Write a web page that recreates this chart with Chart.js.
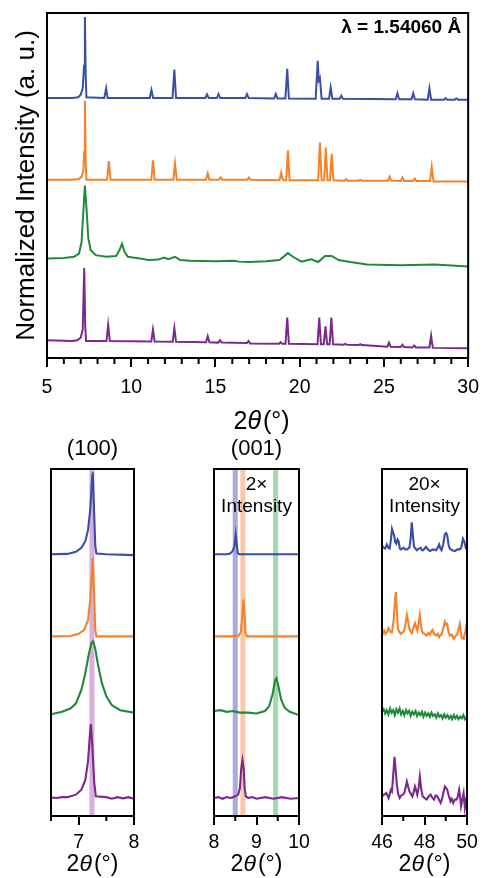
<!DOCTYPE html>
<html>
<head>
<meta charset="utf-8">
<script src="https://cdn.jsdelivr.net/npm/chart.js@4.4.1/dist/chart.umd.min.js"></script>
<style>
  body { margin: 0; background: #fff; }
  #wrap { position: relative; width: 488px; height: 878px; overflow: hidden; }
  canvas { position: absolute; }
</style>
</head>
<body>
<div id="wrap">
  <canvas id="chartTop" width="488" height="445" style="left:0;top:0"></canvas>
  <canvas id="chart100" width="143" height="458" style="left:21px;top:420px"></canvas>
  <canvas id="chart001" width="145" height="458" style="left:184px;top:420px"></canvas>
  <canvas id="chart46" width="145" height="458" style="left:352px;top:420px"></canvas>
</div>
<script>
// ---- data: [2theta, normalized intensity above own baseline] ----
const names = ["blue", "orange", "green", "purple"];
const colors = ["#3a4ea5", "#f5822a", "#1f8a3a", "#7a2a8c"];

// full pattern 5-30 deg
const topBlue = [[5,0],[6.5,0],[6.85,0.01],[7.0,0.04],[7.12,0.12],[7.2,0.4],[7.25,1.0],[7.3,0.25],[7.34,0.01],
  [8.4,0],[8.51,0.12],[8.6,0],[11.1,0],[11.2,0.1],[11.3,0],[12.45,0],[12.56,0.35],[12.66,0],
  [14.4,0],[14.5,0.045],[14.6,0],[15.08,0],[15.18,0.05],[15.28,0],[16.77,0],[16.87,0.05],[16.97,0],
  [18.48,-0.005],[18.58,0.05],[18.68,-0.005],[19.15,-0.005],[19.26,0.36],[19.36,-0.005],
  [20.95,-0.01],[21.07,0.46],[21.13,0.22],[21.2,0.25],[21.3,-0.01],[21.74,-0.01],[21.84,0.13],[21.94,-0.01],
  [22.37,-0.01],[22.47,0.03],[22.57,-0.01],[25.7,-0.015],[25.8,0.06],[25.9,-0.015],
  [26.64,-0.015],[26.74,0.06],[26.84,-0.015],[27.6,-0.02],[27.7,0.12],[27.8,-0.02],
  [28.56,-0.02],[28.66,0.0],[28.76,-0.02],[29.2,-0.02],[29.3,-0.005],[29.4,-0.02],[30,-0.02]];
const topOrange = [[5,0],[6.5,0],[6.9,0.01],[7.05,0.04],[7.15,0.1],[7.21,0.35],[7.25,0.975],[7.3,0.2],[7.34,0],
  [8.57,0],[8.67,0.23],[8.77,0],[11.19,0],[11.29,0.24],[11.39,0],[12.5,0],[12.6,0.2],[12.7,0],
  [14.44,0],[14.54,0.08],[14.64,0],[15.2,0],[15.3,0.03],[15.4,0],[16.89,0],[16.99,0.03],[17.09,0],
  [18.8,-0.005],[18.9,0.09],[18.98,0.01],[19.05,-0.005],[19.2,-0.005],[19.3,0.36],[19.4,-0.005],
  [21.1,-0.005],[21.2,0.46],[21.3,-0.005],[21.45,-0.005],[21.55,0.4],[21.65,-0.005],
  [21.8,-0.005],[21.9,0.32],[22.0,-0.005],[22.66,-0.01],[22.76,0.01],[22.86,-0.01],
  [23.5,-0.01],[23.6,0.0],[23.7,-0.01],[25.24,-0.01],[25.34,0.04],[25.44,-0.01],
  [26.0,-0.015],[26.1,0.03],[26.2,-0.015],[26.73,-0.015],[26.83,0.015],[26.93,-0.015],
  [27.74,-0.015],[27.84,0.16],[27.94,-0.02],[30,-0.02]];
const topGreen = [[5,0],[6,0.005],[6.6,0.02],[6.9,0.06],[7.05,0.2],[7.15,0.55],[7.25,0.9],[7.35,0.6],[7.45,0.25],
  [7.6,0.1],[7.9,0.04],[8.5,0.02],[9.1,0.03],[9.3,0.1],[9.45,0.18],[9.6,0.08],[9.8,0.02],[10.5,0],
  [11,-0.02],[11.6,-0.015],[11.95,0.01],[12.2,-0.01],[12.6,0.02],[12.9,-0.02],[13.5,-0.03],[15,-0.035],
  [16.1,-0.03],[16.4,-0.04],[17,-0.045],[18,-0.035],[18.8,-0.02],[19.3,0.065],[19.6,0.02],[20.1,-0.04],
  [20.67,-0.01],[21.1,-0.045],[21.5,0.03],[21.9,0.03],[22.3,-0.02],[23,-0.045],[24,-0.075],
  [26,-0.085],[28,-0.075],[30,-0.1]];
const topPurple = [[5,0.01],[6.5,0],[6.8,0.01],[7.0,0.04],[7.12,0.14],[7.21,0.9],[7.27,0.18],[7.32,0],
  [8.53,0],[8.63,0.2],[8.73,0],[11.19,-0.005],[11.29,0.14],[11.39,-0.005],[12.46,-0.01],[12.56,0.16],[12.66,-0.01],
  [14.44,-0.015],[14.54,0.06],[14.64,-0.015],[15.17,-0.02],[15.27,0.01],[15.37,-0.02],
  [16.86,-0.025],[16.96,0.0],[17.06,-0.03],[18.77,-0.035],[18.87,-0.015],[18.95,-0.035],
  [19.16,-0.035],[19.26,0.29],[19.36,-0.035],[21.06,-0.04],[21.16,0.29],[21.26,-0.04],
  [21.43,-0.04],[21.53,0.18],[21.63,-0.04],[21.78,-0.04],[21.88,0.29],[21.98,-0.04],
  [22.6,-0.045],[22.7,-0.035],[22.8,-0.045],[23.5,-0.05],[23.6,-0.04],[23.7,-0.05],
  [25.2,-0.07],[25.3,-0.02],[25.4,-0.07],[26.0,-0.075],[26.1,-0.045],[26.2,-0.075],
  [26.7,-0.08],[26.8,-0.055],[26.9,-0.08],[27.7,-0.08],[27.8,0.065],[27.9,-0.085],[30,-0.09]];

// (100) reflection, 6.5-8 deg
const p100Blue = [[6.5,0],[6.8,0.005],[6.95,0.03],[7.05,0.08],[7.12,0.16],[7.17,0.3],[7.21,0.55],[7.24,0.9],
  [7.255,1.0],[7.27,0.7],[7.3,0.1],[7.32,0.01],[7.5,0],[8,-0.01]];
const p100Orange = [[6.5,0],[6.85,0.005],[7.0,0.03],[7.1,0.08],[7.17,0.2],[7.21,0.45],[7.24,0.8],[7.255,0.96],
  [7.27,0.7],[7.3,0.08],[7.32,0],[8,0]];
const p100Green = [[6.5,0],[6.7,0.03],[6.85,0.07],[6.95,0.13],[7.05,0.3],[7.12,0.5],[7.18,0.72],[7.23,0.87],
  [7.26,0.89],[7.3,0.8],[7.35,0.6],[7.42,0.38],[7.5,0.22],[7.6,0.11],[7.75,0.05],[8,0.02]];
const p100Purple = [[6.5,0.005],[6.6,0.0],[6.7,0.01],[6.8,0.01],[6.95,0.04],[7.05,0.1],[7.12,0.22],[7.17,0.45],
  [7.2,0.75],[7.22,0.9],[7.25,0.6],[7.28,0.2],[7.31,0.02],[7.5,0.01],[7.6,-0.01],[7.7,0.01],[7.8,-0.005],[7.9,0.01],[8,-0.01]];

// (001) reflection, 8-10 deg, shown at 2x intensity
const p001Blue = [[8,0],[8.3,0],[8.38,0.01],[8.44,0.04],[8.48,0.1],[8.51,0.24],[8.535,0.12],[8.56,0.01],[8.6,0],[9.5,0],[10,0]];
const p001Orange = [[8,0],[8.4,0],[8.58,0.01],[8.63,0.05],[8.66,0.2],[8.69,0.45],[8.715,0.3],[8.74,0.05],[8.77,0],[9.5,0],[10,0]];
const p001Green = [[8,0.04],[8.15,0.05],[8.3,0.03],[8.45,0.04],[8.6,0.02],[8.8,0.02],[9.0,0.01],[9.2,0.04],[9.3,0.1],
  [9.38,0.25],[9.44,0.42],[9.47,0.44],[9.52,0.33],[9.58,0.18],[9.66,0.08],[9.78,0.03],[10,-0.01]];
const p001Purple = [[8,0],[8.1,0.01],[8.2,-0.01],[8.3,0.01],[8.4,0],[8.5,0.02],[8.57,0.04],[8.61,0.12],[8.64,0.35],
  [8.67,0.46],[8.7,0.35],[8.72,0.12],[8.75,0.02],[8.8,0],[8.9,0.01],[9.0,-0.01],[9.2,0.01],[9.4,-0.01],
  [9.6,0.01],[9.8,-0.01],[10,0]];

// 46-50 deg, shown at 20x intensity
const p46Blue = [[46.0,0.07],[46.05,0.09],[46.15,0.07],[46.23,0.12],[46.3,0.08],[46.36,0.07],[46.42,0.18],[46.47,0.31],
  [46.52,0.27],[46.57,0.23],[46.62,0.15],[46.67,0.13],[46.73,0.18],[46.78,0.16],[46.84,0.07],[46.89,0.06],
  [47.0,0.08],[47.1,0.06],[47.17,0.06],[47.29,0.08],[47.35,0.2],[47.4,0.39],[47.45,0.25],[47.5,0.1],
  [47.57,0.07],[47.64,0.05],[47.73,0.07],[47.82,0.08],[47.88,0.05],[47.94,0.05],[48.07,0.09],[48.16,0.06],
  [48.26,0.04],[48.4,0.06],[48.54,0.05],[48.62,0.08],[48.69,0.12],[48.75,0.07],[48.8,0.05],[48.88,0.12],
  [48.96,0.25],[49.02,0.26],[49.07,0.23],[49.13,0.12],[49.19,0.07],[49.3,0.05],[49.43,0.04],[49.55,0.06],
  [49.66,0.06],[49.73,0.08],[49.81,0.19],[49.88,0.15],[49.95,0.07],[50.0,0.07]];
const p46Orange = [[46.0,0.01],[46.05,0.04],[46.1,0.07],[46.17,0.03],[46.23,0.05],[46.3,0.1],[46.36,0.07],[46.42,0.05],
  [46.47,0.05],[46.55,0.2],[46.6,0.4],[46.65,0.54],[46.7,0.3],[46.75,0.09],[46.82,0.05],[46.89,0.03],
  [46.97,0.05],[47.05,0.07],[47.12,0.18],[47.17,0.26],[47.23,0.18],[47.29,0.09],[47.35,0.06],[47.4,0.04],
  [47.48,0.1],[47.55,0.16],[47.6,0.12],[47.66,0.07],[47.72,0.15],[47.78,0.26],[47.84,0.12],[47.91,0.04],
  [48.0,0.03],[48.1,0.01],[48.18,0.04],[48.26,0.02],[48.32,0.06],[48.38,0.08],[48.45,0.03],[48.54,0.01],
  [48.62,0.03],[48.69,-0.01],[48.75,0.02],[48.8,0.02],[48.88,0.1],[48.96,0.18],[49.02,0.14],[49.07,0.15],
  [49.13,0.05],[49.19,0.01],[49.28,0.02],[49.38,-0.03],[49.45,0.0],[49.53,0.02],[49.6,0.08],[49.66,0.15],
  [49.71,0.06],[49.75,-0.02],[49.84,-0.03],[49.92,0.06],[49.97,0.13],[50.0,0.1]];
const p46Green = [[46.0,0.03],[46.08,0.06],[46.15,0.01],[46.22,0.05],[46.3,0.0],[46.38,0.07],[46.45,0.02],[46.53,0.05],
  [46.6,-0.01],[46.68,0.06],[46.75,0.02],[46.83,0.07],[46.9,0.0],[46.98,0.04],[47.05,-0.01],[47.13,0.05],
  [47.2,0.01],[47.28,0.04],[47.35,-0.02],[47.43,0.03],[47.5,0.0],[47.58,0.04],[47.65,-0.02],[47.73,0.02],
  [47.8,-0.01],[47.88,0.03],[47.95,-0.03],[48.03,0.02],[48.1,-0.02],[48.18,0.01],[48.25,-0.03],[48.33,0.02],
  [48.4,-0.02],[48.48,0.0],[48.55,-0.04],[48.63,0.01],[48.7,-0.03],[48.78,-0.01],[48.85,-0.05],[48.93,0.0],
  [49.0,-0.04],[49.08,-0.01],[49.15,-0.05],[49.23,-0.02],[49.3,-0.06],[49.38,-0.01],[49.45,-0.05],[49.53,-0.02],
  [49.6,-0.06],[49.68,-0.03],[49.75,-0.05],[49.83,-0.01],[49.9,-0.06],[50.0,-0.03]];
const p46Purple = [[46.0,0.02],[46.1,0.04],[46.2,0.06],[46.26,0.03],[46.31,0.0],[46.37,0.05],[46.42,0.1],[46.47,0.08],
  [46.52,0.25],[46.59,0.5],[46.64,0.35],[46.7,0.16],[46.76,0.05],[46.83,0.0],[46.9,0.03],[46.98,0.04],
  [47.05,0.06],[47.12,0.14],[47.17,0.2],[47.23,0.14],[47.29,0.08],[47.36,0.05],[47.43,0.02],[47.5,0.08],
  [47.55,0.14],[47.6,0.1],[47.66,0.04],[47.72,0.12],[47.78,0.26],[47.84,0.12],[47.91,0.02],[48.0,0.0],
  [48.1,-0.02],[48.2,0.02],[48.29,0.04],[48.37,0.0],[48.45,-0.02],[48.52,0.03],[48.6,0.02],[48.68,-0.02],
  [48.76,-0.06],[48.84,0.0],[48.9,0.08],[48.96,0.14],[49.02,0.12],[49.07,0.1],[49.14,0.03],[49.22,-0.04],
  [49.28,-0.01],[49.35,-0.06],[49.42,-0.02],[49.5,-0.02],[49.57,0.02],[49.63,0.1],[49.68,0.0],[49.72,-0.1],
  [49.78,-0.02],[49.84,0.06],[49.9,-0.12],[49.95,-0.03],[50.0,0.02]];

// stacking offsets (blue, orange, green, purple)
const topOffsets = [3.0, 1.99, 1.02, 0];
const lowOffsets = [2.97, 1.97, 1.02, 0];

// reference lines
const band100 = [7.24];
const band001 = [8.5, 8.68, 9.45];

// axis ticks
const topTicks = [5, 10, 15, 20, 25, 30];
const p100Ticks = [7, 8], p100Minor = [6.5, 7.5];
const p001Ticks = [8, 9, 10], p001Minor = [8.5, 9.5];
const p46Ticks = [46, 48, 50], p46Minor = [47, 49];

// ---- drawing ----
const FONT = "'Liberation Sans', Arial, Helvetica, sans-serif";
Chart.defaults.font.family = FONT;
Chart.defaults.color = "#000";

function trace(points, offset, color, width) {
  return {
    data: points.map(p => ({ x: p[0], y: p[1] + offset })),
    borderColor: color, borderWidth: width, pointRadius: 0, tension: 0, fill: false, order: 0
  };
}
function band(x, color, yMin, yMax) {
  return {
    data: [{ x: x, y: yMin }, { x: x, y: yMax }],
    borderColor: color, borderWidth: 5, pointRadius: 0, fill: false, order: 5, clip: 0
  };
}

function drawTwoTheta(ctx, cx, cy, size) {
  const parts = [["2", size + "px " + FONT, 0], ["\u03B8", "italic " + size + "px " + FONT, 2], ["(\u00B0)", size + "px " + FONT, 0]];
  let w = 0;
  parts.forEach(p => { ctx.font = p[1]; w += ctx.measureText(p[0]).width + p[2]; });
  let x = cx - w / 2;
  ctx.textAlign = "left";
  ctx.textBaseline = "middle";
  parts.forEach(p => { ctx.font = p[1]; ctx.fillText(p[0], x, cy); x += ctx.measureText(p[0]).width + p[2]; });
}

const framePlugin = {
  id: "frame",
  afterDraw(chart, args, opts) {
    const { ctx, chartArea: a } = chart;
    const xs = chart.scales.x;
    ctx.save();
    ctx.strokeStyle = "#000";
    ctx.fillStyle = "#000";
    ctx.lineWidth = 2;
    ctx.strokeRect(a.left, a.top, a.right - a.left, a.bottom - a.top);
    (opts.minor || []).forEach(v => {
      const px = xs.getPixelForValue(v);
      ctx.beginPath();
      ctx.moveTo(px, a.bottom);
      ctx.lineTo(px, a.bottom + opts.minorLen);
      ctx.stroke();
    });
    const cx = (a.left + a.right) / 2;
    drawTwoTheta(ctx, cx + (opts.titleDx || 0), a.bottom + opts.titleDy, opts.titleSize);
    (opts.labels || []).forEach(l => {
      ctx.font = l.font;
      ctx.textAlign = l.align || "center";
      ctx.textBaseline = "middle";
      const x = l.align === "right" ? a.right + l.dx : cx + (l.dx || 0);
      ctx.fillText(l.text, x, a.top + l.dy);
    });
    ctx.restore();
  }
};

function xAxis(min, max, ticks, fontSize, height, pad) {
  return {
    type: "linear", min: min, max: max,
    afterBuildTicks: s => { s.ticks = ticks.map(v => ({ value: v })); },
    ticks: { font: { size: fontSize }, color: "#000", padding: pad, maxRotation: 0, autoSkip: false },
    grid: { display: true, drawOnChartArea: false, drawTicks: true, tickLength: 9, tickWidth: 2, tickColor: "#000", lineWidth: 2 },
    border: { display: false },
    afterFit: s => { s.height = height; }
  };
}

// top: full pattern
const topSets = [topBlue, topOrange, topGreen, topPurple].map((d, i) => trace(d, topOffsets[i], colors[i], 2));
new Chart(document.getElementById("chartTop"), {
  type: "line",
  data: { datasets: topSets },
  plugins: [framePlugin],
  options: {
    responsive: false, animation: false,
    layout: { padding: { left: 0, right: 12, top: 13, bottom: 0 } },
    scales: {
      x: xAxis(5, 30, topTicks, 19.5, 87, 9),
      y: {
        min: -0.21, max: 4.05,
        ticks: { display: false }, grid: { display: false }, border: { display: false },
        title: { display: true, text: "Normalized Intensity (a. u.)", font: { size: 26 }, color: "#000", padding: { top: 11, bottom: 0 } },
        afterFit: s => { s.width = 47; }
      }
    },
    plugins: {
      legend: { display: false }, tooltip: { enabled: false },
      frame: {
        minor: [6,7,8,9,11,12,13,14,16,17,18,19,21,22,23,24,26,27,28,29], minorLen: 6,
        titleDy: 64, titleDx: 4, titleSize: 25,
        labels: [{ text: "\u03BB = 1.54060 \u00C5", font: "bold 19px " + FONT, align: "right", dx: -7, dy: 15 }]
      }
    }
  }
});

// lower panels
function lowerPanel(id, min, max, traces, bands, ticks, minor, labels) {
  const yMin = -0.22, yMax = 4.01;
  const sets = traces.map((d, i) => trace(d, lowOffsets[i], colors[i], 2.1));
  bands.forEach(b => sets.push(band(b[0], b[1], yMin, yMax)));
  new Chart(document.getElementById(id), {
    type: "line",
    data: { datasets: sets },
    plugins: [framePlugin],
    options: {
      responsive: false, animation: false,
      layout: { padding: { left: 30, right: 30, top: 49, bottom: 0 } },
      scales: {
        x: xAxis(min, max, ticks, 19.5, 62, 6),
        y: { min: yMin, max: yMax, display: false }
      },
      plugins: {
        legend: { display: false }, tooltip: { enabled: false },
        frame: { minor: minor, minorLen: 5, titleDy: 49, titleSize: 23, labels: labels }
      }
    }
  });
}

lowerPanel("chart100", 6.5, 8, [p100Blue, p100Orange, p100Green, p100Purple],
  band100.map(x => [x, "#d9b0dd"]), p100Ticks, p100Minor,
  [{ text: "(100)", font: "22px " + FONT, dy: -20 }]);

lowerPanel("chart001", 8, 10, [p001Blue, p001Orange, p001Green, p001Purple],
  [[band001[0], "#a9abdd"], [band001[1], "#fcc8a4"], [band001[2], "#a3d9ab"]], p001Ticks, p001Minor,
  [{ text: "(001)", font: "22px " + FONT, dy: -20 },
   { text: "2\u00D7", font: "19px " + FONT, dy: 16 },
   { text: "Intensity", font: "19px " + FONT, dy: 38 }]);

lowerPanel("chart46", 46, 50, [p46Blue, p46Orange, p46Green, p46Purple],
  [], p46Ticks, p46Minor,
  [{ text: "20\u00D7", font: "19px " + FONT, dy: 16 },
   { text: "Intensity", font: "19px " + FONT, dy: 38 }]);
</script>
</body>
</html>
